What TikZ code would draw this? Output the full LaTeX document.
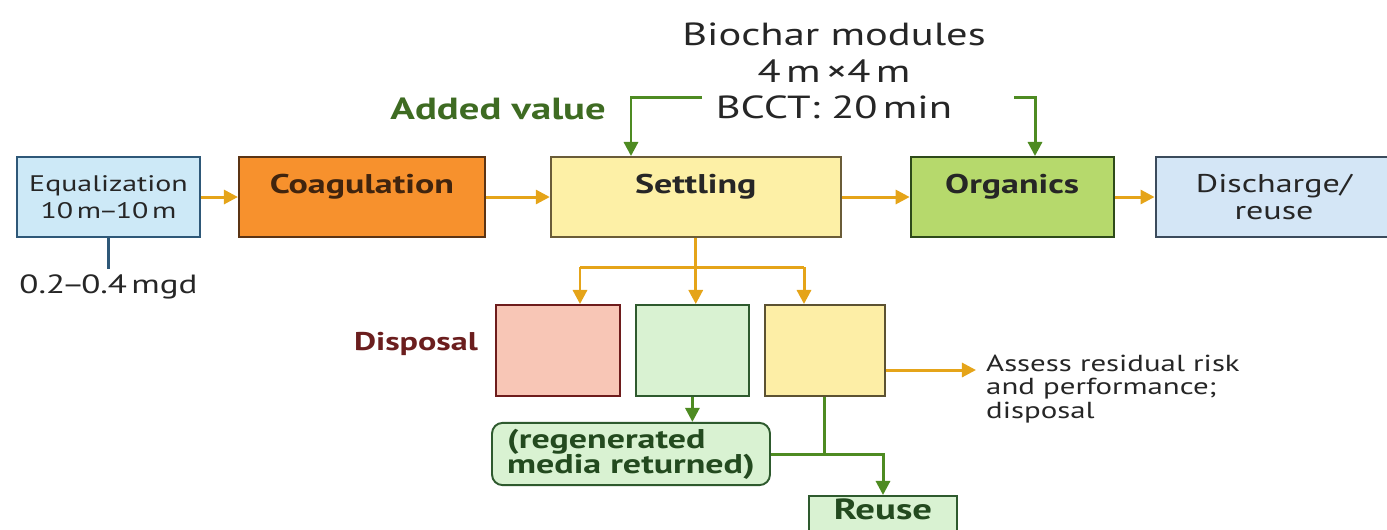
\documentclass[tikz,border=0pt]{standalone}
\usepackage{fontspec}
\setmainfont{PT Sans}[FakeStretch=1.33]
\usetikzlibrary{arrows.meta,positioning}

\definecolor{eqfill}{HTML}{CDE9F7}
\definecolor{eqdraw}{HTML}{2E5878}
\definecolor{coagfill}{HTML}{F7912D}
\definecolor{coagdraw}{HTML}{5B3414}
\definecolor{setfill}{HTML}{FDF0A6}
\definecolor{setdraw}{HTML}{6A5C38}
\definecolor{orgfill}{HTML}{B6D96C}
\definecolor{orgdraw}{HTML}{2E4A1A}
\definecolor{disfill}{HTML}{D4E6F6}
\definecolor{disdraw}{HTML}{3B4B5C}
\definecolor{redfill}{HTML}{F8C6B6}
\definecolor{reddraw}{HTML}{6E1C1C}
\definecolor{grnfill}{HTML}{D9F2D2}
\definecolor{grndraw}{HTML}{2E5A2E}
\definecolor{yelfill}{HTML}{FDEEA6}
\definecolor{yeldraw}{HTML}{5C5232}
\definecolor{flowcol}{HTML}{E5A419}
\definecolor{gcol}{HTML}{4E8B22}
\definecolor{addcol}{HTML}{3E6B22}
\definecolor{regcol}{HTML}{234A1F}
\definecolor{dispcol}{HTML}{6B1E1E}
\definecolor{ink}{HTML}{262626}

\begin{document}
\begin{tikzpicture}[x=0.02cm, y=-0.02cm, node distance=0.74cm,
    box/.style={draw, rectangle, line width=1.1pt, minimum height=1.6cm, inner sep=0pt, text=ink},
    toptext/.style={text height=0.36cm, text depth=0.52cm},
    smallbox/.style={draw, rectangle, line width=1.1pt, minimum height=1.82cm},
    flow/.style={-{Triangle[length=8pt,width=8pt]}, line width=1.7pt, draw=flowcol},
    flowline/.style={line width=1.7pt, draw=flowcol},
    gflow/.style={-{Triangle[length=8pt,width=8pt]}, line width=1.7pt, draw=gcol},
    gline/.style={line width=1.7pt, draw=gcol},
    mainfont/.style={font=\fontsize{15.4}{17}\selectfont\bfseries},
    thinfont/.style={font=\fontsize{12.8}{15.3}\selectfont}]

    \useasboundingbox (0,0) rectangle (1387,529);
    \clip (0,0) rectangle (1387,529);

    % Main line
    \node[box, fill=eqfill, draw=eqdraw, minimum width=3.66cm, align=center, thinfont] (eq) at (108.5,197) {Equalization\\10\,m\kern-1.5pt–\kern-1.5pt10\,m};
    \node[box, fill=coagfill, draw=coagdraw, minimum width=4.92cm, toptext, mainfont, text=coagdraw!70!black, right=of eq] (coag) {Coagulation};
    \node[box, fill=setfill, draw=setdraw, minimum width=5.8cm, toptext, mainfont, right=1.28cm of coag] (settle) {Settling};
    \node[box, fill=orgfill, draw=orgdraw, minimum width=4.06cm, toptext, mainfont, right=1.36cm of settle] (org) {Organics};
    \node[box, fill=disfill, draw=disdraw, minimum width=4.74cm, align=center, font=\fontsize{14.6}{15.5}\selectfont, right=0.8cm of org] (dis) {Discharge/\\reuse};

    \node[below=0.62cm of eq, font=\fontsize{15}{18}\selectfont, text=ink] (mgd) {0.2\kern-2pt–\kern-2pt0.4\,mgd};
    \draw[line width=1.5pt, eqdraw] (eq) -- (mgd);

    \draw[flow] (eq) -- (coag);
    \draw[flow] (coag) -- (settle);
    \draw[flow] (settle) -- (org);
    \draw[flow] (org) -- (dis);

    % Biochar modules
    \node[align=center, font=\fontsize{18.2}{20.6}\selectfont, text=ink] (bio) at (834,71) {Biochar modules\\4\,m\,×4\,m\\BCCT: 20\,min};
    \node[anchor=base east, font=\fontsize{17.4}{20}\selectfont\bfseries, text=addcol] (added) at (612,119) {Added value};

    \coordinate (gL) at (702,97);
    \coordinate (gLd) at (631,97);
    \coordinate (gR) at (1014,97);
    \coordinate (gRd) at (1035,97);
    \draw[gflow] (gL) -- (gLd) -- (gLd |- settle.north);
    \draw[gflow] (gR) -- (gRd) -- (gRd |- org.north);

    % Residual streams
    \node[smallbox, fill=redfill, draw=reddraw, minimum width=2.48cm] (red) at (558,350.5) {};
    \node[smallbox, fill=grnfill, draw=grndraw, minimum width=2.26cm, right=0.28cm of red] (grn) {};
    \node[smallbox, fill=yelfill, draw=yeldraw, minimum width=2.4cm, right=0.28cm of grn] (yel) {};

    \node[anchor=base east, font=\fontsize{14.6}{16}\selectfont\bfseries, text=dispcol] (disp) at (484,350) {Disposal};

    \coordinate (brL) at (580,267);
    \coordinate (brR) at (804,267);
    \draw[flow] (settle.south) -- (settle.south |- grn.north);
    \draw[flowline] (brL) -- (brR);
    \draw[flow] (brL) -- (brL |- red.north);
    \draw[flow] (brR) -- (brR |- yel.north);

    \coordinate (riskA) at (976,370);
    \draw[flow] (yel.east |- riskA) -- (riskA);
    \node[anchor=north west, align=left, font=\fontsize{13.2}{13.2}\selectfont, text=ink] (risk) at (980,349) {Assess residual risk\\and performance;\\disposal};

    % Regeneration and reuse
    \node[draw=grndraw, fill=grnfill, rounded corners=6pt, line width=1.1pt, minimum width=5.56cm, minimum height=1.24cm, inner xsep=4pt, align=left, font=\fontsize{15.4}{14.4}\selectfont\bfseries, text=regcol] (regen) at (631,454) {(regenerated\\media returned)};
    \node[draw=grndraw, fill=grnfill, line width=1.1pt, minimum width=2.96cm, text height=0.36cm, text depth=0.2cm, inner ysep=0.12cm, anchor=north, font=\fontsize{16.6}{18}\selectfont\bfseries, text=regcol] (reuse) at (883,495) {Reuse};

    \draw[gflow] (grn.south) -- (grn.south |- regen.north);
    \draw[gline] (yel.south) -- (yel.south |- regen.east);
    \draw[gflow] (regen.east) -| (reuse.north);

\end{tikzpicture}
\end{document}
